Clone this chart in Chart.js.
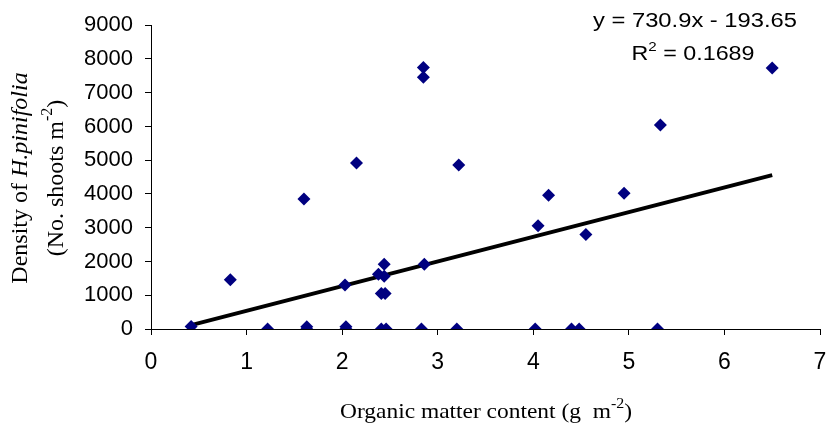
<!DOCTYPE html>
<html>
<head>
<meta charset="utf-8">
<script src="https://cdn.jsdelivr.net/npm/chart.js@4.4.0/dist/chart.umd.min.js"></script>
<style>
  html, body { margin: 0; padding: 0; background: #fff; }
  #wrap { width: 827px; height: 429px; }
</style>
</head>
<body>
<div id="wrap"><canvas id="omChart" width="827" height="429"></canvas></div>
<script>
// ============================
//  DADOS
// ============================

// organic matter content (g m-2)
const organicMatter = [
    0.42, 0.83, 1.22, 1.60, 1.63, 1.63, 2.03, 2.04, 2.04, 2.15,
    2.38, 2.41, 2.45, 2.44, 2.44, 2.41, 2.46, 2.83, 2.86, 2.85,
    2.85, 3.20, 3.22, 4.02, 4.05, 4.16, 4.40, 4.48, 4.55, 4.95,
    5.30, 5.33, 6.50
];

// shoot density (No. shoots m-2)
const shootDensity = [
    75, 1460, 0, 3850, 0, 70, 1300, 0, 70, 4920,
    1620, 1050, 1050, 1920, 1560, 0, 0, 0, 1920, 7750,
    7460, 0, 4860, 0, 3060, 3960, 0, 0, 2800, 4020,
    0, 6040, 7730
];

const xTicks = [0, 1, 2, 3, 4, 5, 6, 7];
const yTicks = [0, 1000, 2000, 3000, 4000, 5000, 6000, 7000, 8000, 9000];

// linear trendline reported on the figure
const slope = 730.9;
const intercept = -193.65;
const equationText = "y = 730.9x - 193.65";
const r2Text = "0.1689";

// ============================
//  MONTAR DATASETS
// ============================

const points = organicMatter.map((x, i) => ({ x: x, y: shootDensity[i] }));

const xMin = Math.min(...organicMatter);
const xMax = Math.max(...organicMatter);
const trend = [
    { x: xMin, y: slope * xMin + intercept },
    { x: xMax, y: slope * xMax + intercept }
];

const serif = '"Liberation Serif", "Times New Roman", serif';
const sans = '"Liberation Sans", Arial, sans-serif';

// escreve partes (texto normal / itálico / sobrescrito) em sequência,
// centradas em cx e esticadas para a largura alvo
function drawRuns(c, runs, cx, y, targetW) {
    let total = 0;
    runs.forEach(r => { c.font = r.font; r.w = c.measureText(r.t).width; total += r.w; });
    const k = targetW ? targetW / total : 1;
    c.save();
    c.translate(cx, y);
    c.scale(k, 1);
    let x = -total / 2;
    runs.forEach(r => {
        c.font = r.font;
        c.fillText(r.t, x, r.dy || 0);
        x += r.w;
    });
    c.restore();
}

// textos dos eixos (itálico e sobrescrito desenhados à mão)
const axisText = {
    id: 'axisText',
    afterDraw(chart) {
        const c = chart.ctx;
        c.save();
        c.fillStyle = '#000';
        c.textBaseline = 'alphabetic';
        c.textAlign = 'left';

        // título eixo x
        drawRuns(c, [
            { t: 'Organic matter content (g  m', font: '22px ' + serif },
            { t: '-2', font: '15px ' + serif, dy: -10 },
            { t: ')', font: '22px ' + serif }
        ], 486, 418, 292);

        // título eixo y (rotacionado)
        c.save();
        c.translate(0, 178);
        c.rotate(-Math.PI / 2);
        drawRuns(c, [
            { t: 'Density of ', font: '24px ' + serif },
            { t: 'H.pinifolia', font: 'italic 24px ' + serif }
        ], 0, 27);
        drawRuns(c, [
            { t: '(No. shoots m', font: '24px ' + serif },
            { t: '-2', font: '16px ' + serif, dy: -11 },
            { t: ')', font: '24px ' + serif }
        ], 0, 63);
        c.restore();

        // equação e R²
        drawRuns(c, [{ t: equationText, font: '20px ' + sans }], 695, 27, 204);
        drawRuns(c, [
            { t: 'R', font: '20px ' + sans },
            { t: '2', font: '13px ' + sans, dy: -9 },
            { t: ' = ' + r2Text, font: '20px ' + sans }
        ], 693, 60, 123);
        c.restore();
    }
};

// ============================
//  GRÁFICO
// ============================

const ctx = document.getElementById('omChart').getContext('2d');

const omChart = new Chart(ctx, {
    type: 'scatter',
    data: {
        datasets: [{
            label: 'Density',
            data: points,
            pointStyle: 'rectRot',
            pointRadius: 6.5,
            pointHoverRadius: 6.5,
            backgroundColor: '#000080',
            borderColor: '#000080',
            borderWidth: 0
        }, {
            label: 'Trend',
            type: 'line',
            data: trend,
            borderColor: '#000',
            borderWidth: 4,
            pointRadius: 0,
            fill: false
        }]
    },
    options: {
        responsive: false,
        animation: false,
        devicePixelRatio: 1,
        layout: { padding: { top: 24, right: 7, left: 0, bottom: 0 } },
        plugins: {
            legend: { display: false },
            tooltip: { enabled: false }
        },
        scales: {
            x: {
                type: 'linear',
                min: 0,
                max: 7,
                afterFit(scale) {
                    scale.height = 100;
                    scale.paddingRight = 0;
                    scale.paddingLeft = 0;
                },
                afterBuildTicks(scale) { scale.ticks = xTicks.map(v => ({ value: v })); },
                border: { color: '#000', width: 1 },
                grid: { drawOnChartArea: false, drawTicks: true, tickLength: 6, color: '#000' },
                ticks: {
                    color: '#000',
                    padding: 14,
                    maxRotation: 0,
                    callback: v => String(v),
                    font: { family: sans, size: 23 }
                }
            },
            y: {
                min: 0,
                max: 9000,
                afterFit(scale) { scale.width = 151; },
                afterBuildTicks(scale) { scale.ticks = yTicks.map(v => ({ value: v })); },
                border: { color: '#000', width: 1 },
                grid: { drawOnChartArea: false, drawTicks: true, tickLength: 6, color: '#000' },
                ticks: {
                    color: '#000',
                    padding: 12,
                    callback: v => String(v),
                    font: { family: sans, size: 22 }
                }
            }
        }
    },
    plugins: [axisText]
});
</script>
</body>
</html>
